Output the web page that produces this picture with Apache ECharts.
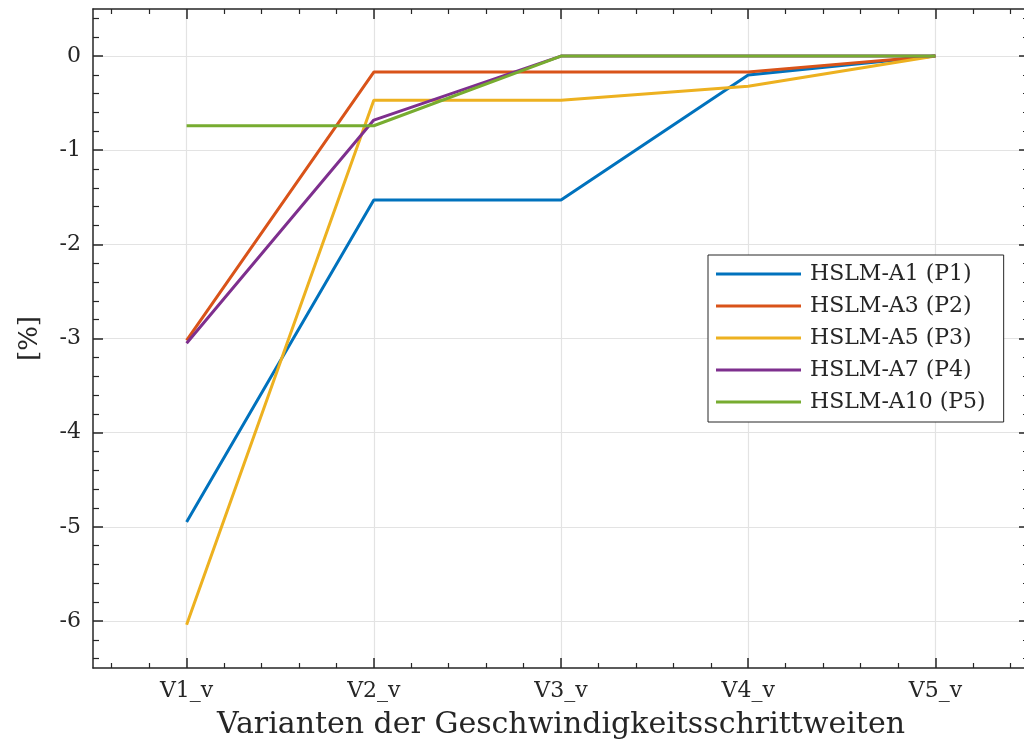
<!DOCTYPE html>
<html>
<head>
<meta charset="utf-8">
<script src="https://cdn.jsdelivr.net/npm/echarts@6/dist/echarts.min.js"></script>
<style>
  html, body { margin: 0; padding: 0; background: #ffffff; }
  #chart { width: 1024px; height: 751px; }
</style>
</head>
<body>
<div id="chart"></div>
<script>
// Variants of speed step sizes on the x axis
const categories = ['V1_v', 'V2_v', 'V3_v', 'V4_v', 'V5_v'];
const seriesNames = ['HSLM-A1 (P1)', 'HSLM-A3 (P2)', 'HSLM-A5 (P3)', 'HSLM-A7 (P4)', 'HSLM-A10 (P5)'];

// Deviation in percent per variant
const p1 = [-4.95, -1.53, -1.53, -0.20, 0];
const p2 = [-3.02, -0.17, -0.17, -0.17, 0];
const p3 = [-6.04, -0.47, -0.47, -0.32, 0];
const p4 = [-3.05, -0.68, 0, 0, 0];
const p5 = [-0.74, -0.74, 0, 0, 0];

const yTickValues = [-6, -5, -4, -3, -2, -1, 0];

const colors = ['#0072BD', '#D95319', '#EDB120', '#7E2F8E', '#77AC30'];
const FONT = 'DejaVu Serif';
const INK = '#262626';

const xMin = 0.5, xMax = categories.length + 0.5;
const yMin = -6.5, yMax = 0.5;
const xMajor = categories.map((c, i) => i + 1);

// minor ticks every 0.2 units, skipping the major positions
function minorSteps(lo, hi) {
  const out = [];
  const n = Math.round((hi - lo) / 0.2);
  for (let k = 0; k <= n; k++) {
    const v = +(Math.ceil(lo * 5) / 5 + k * 0.2).toFixed(2);
    if (v > lo && v < hi && Math.abs(v - Math.round(v)) > 1e-6) out.push(v);
  }
  return out;
}
const xMinor = minorSteps(xMin, xMax);
const yMinor = minorSteps(yMin, yMax);

const allSeries = [p1, p2, p3, p4, p5];

function frameAxis(extra) {
  return Object.assign({
    type: 'value',
    axisLine: { show: false, onZero: false },
    axisLabel: { show: false },
    splitLine: { show: false },
    axisTick: { show: false }
  }, extra);
}

const option = {
  animation: false,
  backgroundColor: '#ffffff',
  grid: { left: 93, top: 9, width: 936, height: 659, containLabel: false, outerBoundsMode: 'none' },
  legend: {
    orient: 'vertical',
    left: 708,
    top: 255,
    padding: [7, 18, 8, 8],
    itemGap: 8,
    itemWidth: 85,
    itemHeight: 3,
    icon: 'rect',
    backgroundColor: '#ffffff',
    borderColor: INK,
    borderWidth: 1,
    borderRadius: 0,
    textStyle: { fontFamily: FONT, fontSize: 22, color: INK, lineHeight: 24, padding: [0, 0, 0, 4] },
    data: seriesNames
  },
  xAxis: [
    {
      type: 'value', min: xMin, max: xMax, position: 'bottom',
      axisLine: { show: true, onZero: false, lineStyle: { color: INK, width: 1.5 } },
      axisTick: { show: true, inside: true, length: 10, customValues: xMajor, lineStyle: { color: INK, width: 1.5 } },
      axisLabel: {
        customValues: xMajor, margin: 12,
        fontFamily: FONT, fontSize: 22, color: INK,
        formatter: v => categories[Math.round(v) - 1] || ''
      },
      splitLine: { show: true, customValues: xMajor, lineStyle: { color: '#e3e3e3', width: 1.2 } },
      name: 'Varianten der Geschwindigkeitsschrittweiten',
      nameLocation: 'middle', nameGap: 42,
      nameTextStyle: { fontFamily: FONT, fontSize: 30, color: INK }
    },
    frameAxis({ min: xMin, max: xMax, position: 'bottom',
      axisTick: { show: true, inside: true, length: 5, customValues: xMinor, lineStyle: { color: INK, width: 1.2 } } }),
    frameAxis({ min: xMin, max: xMax, position: 'top',
      axisLine: { show: true, onZero: false, lineStyle: { color: INK, width: 1.5 } },
      axisTick: { show: true, inside: true, length: 10, customValues: xMajor, lineStyle: { color: INK, width: 1.5 } } }),
    frameAxis({ min: xMin, max: xMax, position: 'top',
      axisTick: { show: true, inside: true, length: 5, customValues: xMinor, lineStyle: { color: INK, width: 1.2 } } })
  ],
  yAxis: [
    {
      type: 'value', min: yMin, max: yMax, position: 'left',
      axisLine: { show: true, onZero: false, lineStyle: { color: INK, width: 1.5 } },
      axisTick: { show: true, inside: true, length: 10, customValues: yTickValues, lineStyle: { color: INK, width: 1.5 } },
      axisLabel: {
        customValues: yTickValues, margin: 12,
        fontFamily: FONT, fontSize: 22, color: INK,
        formatter: v => String(Math.round(v))
      },
      splitLine: { show: true, customValues: yTickValues, lineStyle: { color: '#e3e3e3', width: 1.2 } },
      name: '[%]',
      nameLocation: 'middle', nameGap: 50, nameRotate: 90,
      nameTextStyle: { fontFamily: FONT, fontSize: 26, color: INK }
    },
    frameAxis({ min: yMin, max: yMax, position: 'left',
      axisTick: { show: true, inside: true, length: 6, customValues: yMinor, lineStyle: { color: INK, width: 1.2 } } }),
    frameAxis({ min: yMin, max: yMax, position: 'right',
      axisLine: { show: true, onZero: false, lineStyle: { color: INK, width: 1.5 } },
      axisTick: { show: true, inside: true, length: 10, customValues: yTickValues, lineStyle: { color: INK, width: 1.5 } } }),
    frameAxis({ min: yMin, max: yMax, position: 'right',
      axisTick: { show: true, inside: true, length: 6, customValues: yMinor, lineStyle: { color: INK, width: 1.2 } } })
  ],
  series: allSeries.map((vals, s) => ({
    name: seriesNames[s],
    type: 'line',
    xAxisIndex: 0,
    yAxisIndex: 0,
    symbol: 'none',
    color: colors[s],
    lineStyle: { color: colors[s], width: 3 },
    z: 3 + s,
    data: vals.map((v, i) => [i + 1, v])
  }))
};

const chart = echarts.init(document.getElementById('chart'), null, { renderer: 'canvas' });
chart.setOption(option);
</script>
</body>
</html>
